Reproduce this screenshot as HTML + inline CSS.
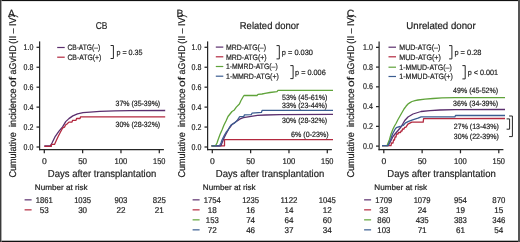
<!DOCTYPE html>
<html><head><meta charset="utf-8"><style>
html,body{margin:0;padding:0;background:#fff;}
body{width:520px;height:242px;overflow:hidden;position:relative;}
svg{position:absolute;left:0;top:0;will-change:transform;}
svg text{text-rendering:geometricPrecision;font-family:"Liberation Sans", sans-serif;fill:#1e1e1e;stroke:#1e1e1e;stroke-width:0.2px;}
</style></head><body>
<svg width="520" height="242" viewBox="0 0 520 242">
<rect x="0" y="0" width="520" height="242" fill="#fff"/>
<line x1="39.6" y1="41.4" x2="39.6" y2="150.2" stroke="#262626" stroke-width="1.25"/>
<line x1="39.0" y1="149.6" x2="163.9" y2="149.6" stroke="#262626" stroke-width="1.2"/>
<line x1="36.5" y1="147.0" x2="39.5" y2="147.0" stroke="#262626" stroke-width="1.25"/>
<text x="33.4" y="149.55" font-size="8.4" text-anchor="end" textLength="9.8" lengthAdjust="spacingAndGlyphs">0.0</text>
<line x1="36.5" y1="127.06" x2="39.5" y2="127.06" stroke="#262626" stroke-width="1.25"/>
<text x="33.4" y="129.61" font-size="8.4" text-anchor="end" textLength="9.8" lengthAdjust="spacingAndGlyphs">0.2</text>
<line x1="36.5" y1="107.12" x2="39.5" y2="107.12" stroke="#262626" stroke-width="1.25"/>
<text x="33.4" y="109.67" font-size="8.4" text-anchor="end" textLength="9.8" lengthAdjust="spacingAndGlyphs">0.4</text>
<line x1="36.5" y1="87.18" x2="39.5" y2="87.18" stroke="#262626" stroke-width="1.25"/>
<text x="33.4" y="89.73" font-size="8.4" text-anchor="end" textLength="9.8" lengthAdjust="spacingAndGlyphs">0.6</text>
<line x1="36.5" y1="67.24" x2="39.5" y2="67.24" stroke="#262626" stroke-width="1.25"/>
<text x="33.4" y="69.78999999999999" font-size="8.4" text-anchor="end" textLength="9.8" lengthAdjust="spacingAndGlyphs">0.8</text>
<line x1="36.5" y1="47.3" x2="39.5" y2="47.3" stroke="#262626" stroke-width="1.25"/>
<text x="33.4" y="49.849999999999994" font-size="8.4" text-anchor="end" textLength="9.8" lengthAdjust="spacingAndGlyphs">1.0</text>
<line x1="44.3" y1="149.6" x2="44.3" y2="153.3" stroke="#262626" stroke-width="1.25"/>
<text x="44.3" y="163.5" font-size="8.4" text-anchor="middle" textLength="4.8" lengthAdjust="spacingAndGlyphs">0</text>
<line x1="82.63333333333333" y1="149.6" x2="82.63333333333333" y2="153.3" stroke="#262626" stroke-width="1.25"/>
<text x="82.63333333333333" y="163.5" font-size="8.4" text-anchor="middle" textLength="9.0" lengthAdjust="spacingAndGlyphs">50</text>
<line x1="120.96666666666667" y1="149.6" x2="120.96666666666667" y2="153.3" stroke="#262626" stroke-width="1.25"/>
<text x="120.96666666666667" y="163.5" font-size="8.4" text-anchor="middle" textLength="12.8" lengthAdjust="spacingAndGlyphs">100</text>
<line x1="159.3" y1="149.6" x2="159.3" y2="153.3" stroke="#262626" stroke-width="1.25"/>
<text x="159.3" y="163.5" font-size="8.4" text-anchor="middle" textLength="12.4" lengthAdjust="spacingAndGlyphs">150</text>
<text x="47.8" y="177.2" font-size="10.2" text-anchor="start" textLength="108.5" lengthAdjust="spacingAndGlyphs">Days after transplantation</text>
<text x="34.8" y="189.9" font-size="7.9" text-anchor="start" textLength="52.8" lengthAdjust="spacingAndGlyphs">Number at risk</text>
<text transform="translate(16.2,177.60) rotate(-90)" x="0" y="0" font-size="9.8" textLength="45.30" lengthAdjust="spacingAndGlyphs">Cumulative</text>
<text transform="translate(16.2,126.90) rotate(-90)" x="0" y="0" font-size="9.8" textLength="38.50" lengthAdjust="spacingAndGlyphs">incidence</text>
<text transform="translate(16.2,86.90) rotate(-90)" x="0" y="0" font-size="9.8" textLength="10.10" lengthAdjust="spacingAndGlyphs">of</text>
<text transform="translate(16.2,74.40) rotate(-90)" x="0" y="0" font-size="9.8" textLength="29.00" lengthAdjust="spacingAndGlyphs">aGvHD</text>
<text transform="translate(16.2,43.80) rotate(-90)" x="0" y="0" font-size="9.8" textLength="29.20" lengthAdjust="spacingAndGlyphs">(II – IV)</text>
<text x="8" y="16.5" font-size="10.5" text-anchor="start">A</text>
<text x="101.5" y="29.4" font-size="10.0" text-anchor="middle" textLength="11.7" lengthAdjust="spacingAndGlyphs">CB</text>
<line x1="57.2" y1="47.5" x2="64.7" y2="47.5" stroke="#5b2f6e" stroke-width="1.2"/>
<text x="67.4" y="50.2" font-size="7.8" text-anchor="start" textLength="32.8" lengthAdjust="spacingAndGlyphs">CB-ATG(–)</text>
<line x1="57.2" y1="57.2" x2="64.7" y2="57.2" stroke="#b3293f" stroke-width="1.2"/>
<text x="67.4" y="59.900000000000006" font-size="7.8" text-anchor="start" textLength="34.0" lengthAdjust="spacingAndGlyphs">CB-ATG(+)</text>
<path d="M110.6,45.5 H113.39999999999999 V58.5 H110.6" fill="none" stroke="#262626" stroke-width="1"/>
<text x="116.4" y="54.5" font-size="7.6" text-anchor="start" textLength="26.2" lengthAdjust="spacingAndGlyphs">p = 0.35</text>
<line x1="24.6" y1="199.79999999999998" x2="31.6" y2="199.79999999999998" stroke="#5b2f6e" stroke-width="1.6" stroke-opacity="0.75"/>
<text x="44.3" y="202.5" font-size="8.4" text-anchor="middle" textLength="17.0" lengthAdjust="spacingAndGlyphs">1861</text>
<text x="82.63333333333333" y="202.5" font-size="8.4" text-anchor="middle" textLength="17.0" lengthAdjust="spacingAndGlyphs">1035</text>
<text x="120.96666666666667" y="202.5" font-size="8.4" text-anchor="middle" textLength="13.0" lengthAdjust="spacingAndGlyphs">903</text>
<text x="159.3" y="202.5" font-size="8.4" text-anchor="middle" textLength="13.0" lengthAdjust="spacingAndGlyphs">825</text>
<line x1="24.6" y1="209.79999999999998" x2="31.6" y2="209.79999999999998" stroke="#b3293f" stroke-width="1.6" stroke-opacity="0.75"/>
<text x="44.3" y="212.5" font-size="8.4" text-anchor="middle" textLength="9.0" lengthAdjust="spacingAndGlyphs">53</text>
<text x="82.63333333333333" y="212.5" font-size="8.4" text-anchor="middle" textLength="9.0" lengthAdjust="spacingAndGlyphs">30</text>
<text x="120.96666666666667" y="212.5" font-size="8.4" text-anchor="middle" textLength="9.0" lengthAdjust="spacingAndGlyphs">22</text>
<text x="159.3" y="212.5" font-size="8.4" text-anchor="middle" textLength="9.0" lengthAdjust="spacingAndGlyphs">21</text>
<path d="M44.30,145.90 L50.40,145.90 L52.00,143.00 L55.30,136.30 L59.00,131.20 L62.60,126.90 L65.70,121.60 L68.90,118.60 L72.80,115.90 L77.50,113.90 L83.00,112.70 L90.00,112.10 L100.00,111.40 L115.00,110.90 L130.00,110.60 L165.20,110.50" fill="none" stroke="#5b2f6e" stroke-width="1.3" stroke-linejoin="round"/>
<path d="M44.30,146.40 L51.30,146.40 L51.50,144.40 L54.50,144.40 L56.50,140.00 L58.40,136.00 L60.50,132.00 L62.80,127.80 L64.50,127.20 L65.50,125.00 L67.00,124.00 L68.90,122.10 L72.00,122.10 L72.60,120.30 L76.00,120.30 L76.60,118.50 L80.00,118.50 L80.60,116.80 L165.20,116.80" fill="none" stroke="#b3293f" stroke-width="1.3" stroke-linejoin="round"/>
<text x="115.5" y="105.7" font-size="7.6" text-anchor="start" textLength="44.7" lengthAdjust="spacingAndGlyphs">37% (35-39%)</text>
<text x="115.5" y="126.8" font-size="7.6" text-anchor="start" textLength="44.7" lengthAdjust="spacingAndGlyphs">30% (28-32%)</text>
<line x1="207.6" y1="41.4" x2="207.6" y2="150.2" stroke="#262626" stroke-width="1.25"/>
<line x1="207.0" y1="149.6" x2="331.9" y2="149.6" stroke="#262626" stroke-width="1.2"/>
<line x1="204.5" y1="147.0" x2="207.5" y2="147.0" stroke="#262626" stroke-width="1.25"/>
<text x="201.4" y="149.55" font-size="8.4" text-anchor="end" textLength="9.8" lengthAdjust="spacingAndGlyphs">0.0</text>
<line x1="204.5" y1="127.06" x2="207.5" y2="127.06" stroke="#262626" stroke-width="1.25"/>
<text x="201.4" y="129.61" font-size="8.4" text-anchor="end" textLength="9.8" lengthAdjust="spacingAndGlyphs">0.2</text>
<line x1="204.5" y1="107.12" x2="207.5" y2="107.12" stroke="#262626" stroke-width="1.25"/>
<text x="201.4" y="109.67" font-size="8.4" text-anchor="end" textLength="9.8" lengthAdjust="spacingAndGlyphs">0.4</text>
<line x1="204.5" y1="87.18" x2="207.5" y2="87.18" stroke="#262626" stroke-width="1.25"/>
<text x="201.4" y="89.73" font-size="8.4" text-anchor="end" textLength="9.8" lengthAdjust="spacingAndGlyphs">0.6</text>
<line x1="204.5" y1="67.24" x2="207.5" y2="67.24" stroke="#262626" stroke-width="1.25"/>
<text x="201.4" y="69.78999999999999" font-size="8.4" text-anchor="end" textLength="9.8" lengthAdjust="spacingAndGlyphs">0.8</text>
<line x1="204.5" y1="47.3" x2="207.5" y2="47.3" stroke="#262626" stroke-width="1.25"/>
<text x="201.4" y="49.849999999999994" font-size="8.4" text-anchor="end" textLength="9.8" lengthAdjust="spacingAndGlyphs">1.0</text>
<line x1="212.3" y1="149.6" x2="212.3" y2="153.3" stroke="#262626" stroke-width="1.25"/>
<text x="212.3" y="163.5" font-size="8.4" text-anchor="middle" textLength="4.8" lengthAdjust="spacingAndGlyphs">0</text>
<line x1="250.63333333333335" y1="149.6" x2="250.63333333333335" y2="153.3" stroke="#262626" stroke-width="1.25"/>
<text x="250.63333333333335" y="163.5" font-size="8.4" text-anchor="middle" textLength="9.0" lengthAdjust="spacingAndGlyphs">50</text>
<line x1="288.9666666666667" y1="149.6" x2="288.9666666666667" y2="153.3" stroke="#262626" stroke-width="1.25"/>
<text x="288.9666666666667" y="163.5" font-size="8.4" text-anchor="middle" textLength="12.8" lengthAdjust="spacingAndGlyphs">100</text>
<line x1="327.3" y1="149.6" x2="327.3" y2="153.3" stroke="#262626" stroke-width="1.25"/>
<text x="327.3" y="163.5" font-size="8.4" text-anchor="middle" textLength="12.4" lengthAdjust="spacingAndGlyphs">150</text>
<text x="215.8" y="177.2" font-size="10.2" text-anchor="start" textLength="108.5" lengthAdjust="spacingAndGlyphs">Days after transplantation</text>
<text x="202.8" y="189.9" font-size="7.9" text-anchor="start" textLength="52.8" lengthAdjust="spacingAndGlyphs">Number at risk</text>
<text transform="translate(185,177.60) rotate(-90)" x="0" y="0" font-size="9.8" textLength="45.30" lengthAdjust="spacingAndGlyphs">Cumulative</text>
<text transform="translate(185,126.90) rotate(-90)" x="0" y="0" font-size="9.8" textLength="38.50" lengthAdjust="spacingAndGlyphs">incidence</text>
<text transform="translate(185,86.90) rotate(-90)" x="0" y="0" font-size="9.8" textLength="10.10" lengthAdjust="spacingAndGlyphs">of</text>
<text transform="translate(185,74.40) rotate(-90)" x="0" y="0" font-size="9.8" textLength="29.00" lengthAdjust="spacingAndGlyphs">aGvHD</text>
<text transform="translate(185,43.80) rotate(-90)" x="0" y="0" font-size="9.8" textLength="29.20" lengthAdjust="spacingAndGlyphs">(II – IV)</text>
<text x="176.6" y="16.5" font-size="10.5" text-anchor="start">B</text>
<text x="269.5" y="29.4" font-size="10.0" text-anchor="middle" textLength="59.4" lengthAdjust="spacingAndGlyphs">Related donor</text>
<line x1="215.8" y1="47.1" x2="223.3" y2="47.1" stroke="#5b2f6e" stroke-width="1.2"/>
<text x="226.0" y="49.800000000000004" font-size="7.8" text-anchor="start" textLength="40.0" lengthAdjust="spacingAndGlyphs">MRD-ATG(–)</text>
<line x1="215.8" y1="56.8" x2="223.3" y2="56.8" stroke="#b3293f" stroke-width="1.2"/>
<text x="226.0" y="59.5" font-size="7.8" text-anchor="start" textLength="40.7" lengthAdjust="spacingAndGlyphs">MRD-ATG(+)</text>
<line x1="215.8" y1="66.5" x2="223.3" y2="66.5" stroke="#5fa33a" stroke-width="1.2"/>
<text x="226.0" y="69.2" font-size="7.8" text-anchor="start" textLength="51.7" lengthAdjust="spacingAndGlyphs">1-MMRD-ATG(–)</text>
<line x1="215.8" y1="76.2" x2="223.3" y2="76.2" stroke="#3b5d91" stroke-width="1.2"/>
<text x="226.0" y="78.9" font-size="7.8" text-anchor="start" textLength="52.8" lengthAdjust="spacingAndGlyphs">1-MMRD-ATG(+)</text>
<path d="M276.5,45.6 H279.3 V58.9 H276.5" fill="none" stroke="#262626" stroke-width="1"/>
<text x="281.8" y="54.75" font-size="7.6" text-anchor="start" textLength="31.2" lengthAdjust="spacingAndGlyphs">p = 0.030</text>
<path d="M290.3,65.6 H293.1 V78.6 H290.3" fill="none" stroke="#262626" stroke-width="1"/>
<text x="295.1" y="74.6" font-size="7.6" text-anchor="start" textLength="30.6" lengthAdjust="spacingAndGlyphs">p = 0.006</text>
<line x1="192.6" y1="199.79999999999998" x2="199.6" y2="199.79999999999998" stroke="#5b2f6e" stroke-width="1.6" stroke-opacity="0.75"/>
<text x="212.3" y="202.5" font-size="8.4" text-anchor="middle" textLength="17.0" lengthAdjust="spacingAndGlyphs">1754</text>
<text x="250.63333333333335" y="202.5" font-size="8.4" text-anchor="middle" textLength="17.0" lengthAdjust="spacingAndGlyphs">1235</text>
<text x="288.9666666666667" y="202.5" font-size="8.4" text-anchor="middle" textLength="17.0" lengthAdjust="spacingAndGlyphs">1122</text>
<text x="327.3" y="202.5" font-size="8.4" text-anchor="middle" textLength="17.0" lengthAdjust="spacingAndGlyphs">1045</text>
<line x1="192.6" y1="209.79999999999998" x2="199.6" y2="209.79999999999998" stroke="#b3293f" stroke-width="1.6" stroke-opacity="0.75"/>
<text x="212.3" y="212.5" font-size="8.4" text-anchor="middle" textLength="9.0" lengthAdjust="spacingAndGlyphs">18</text>
<text x="250.63333333333335" y="212.5" font-size="8.4" text-anchor="middle" textLength="9.0" lengthAdjust="spacingAndGlyphs">16</text>
<text x="288.9666666666667" y="212.5" font-size="8.4" text-anchor="middle" textLength="9.0" lengthAdjust="spacingAndGlyphs">14</text>
<text x="327.3" y="212.5" font-size="8.4" text-anchor="middle" textLength="9.0" lengthAdjust="spacingAndGlyphs">12</text>
<line x1="192.6" y1="219.79999999999998" x2="199.6" y2="219.79999999999998" stroke="#5fa33a" stroke-width="1.6" stroke-opacity="0.75"/>
<text x="212.3" y="222.5" font-size="8.4" text-anchor="middle" textLength="13.0" lengthAdjust="spacingAndGlyphs">153</text>
<text x="250.63333333333335" y="222.5" font-size="8.4" text-anchor="middle" textLength="9.0" lengthAdjust="spacingAndGlyphs">74</text>
<text x="288.9666666666667" y="222.5" font-size="8.4" text-anchor="middle" textLength="9.0" lengthAdjust="spacingAndGlyphs">64</text>
<text x="327.3" y="222.5" font-size="8.4" text-anchor="middle" textLength="9.0" lengthAdjust="spacingAndGlyphs">60</text>
<line x1="192.6" y1="229.79999999999998" x2="199.6" y2="229.79999999999998" stroke="#3b5d91" stroke-width="1.6" stroke-opacity="0.75"/>
<text x="212.3" y="232.5" font-size="8.4" text-anchor="middle" textLength="9.0" lengthAdjust="spacingAndGlyphs">72</text>
<text x="250.63333333333335" y="232.5" font-size="8.4" text-anchor="middle" textLength="9.0" lengthAdjust="spacingAndGlyphs">46</text>
<text x="288.9666666666667" y="232.5" font-size="8.4" text-anchor="middle" textLength="9.0" lengthAdjust="spacingAndGlyphs">37</text>
<text x="327.3" y="232.5" font-size="8.4" text-anchor="middle" textLength="9.0" lengthAdjust="spacingAndGlyphs">34</text>
<path d="M211.50,145.80 L224.50,145.80 L224.50,139.60 L333.00,139.60" fill="none" stroke="#b3293f" stroke-width="1.3" stroke-linejoin="round"/>
<path d="M211.50,145.80 L221.00,145.80 L222.00,143.00 L224.00,138.00 L226.00,134.00 L229.00,128.50 L232.00,124.50 L236.30,121.50 L240.20,118.90 L243.40,117.70 L249.60,116.60 L257.50,115.40 L265.30,115.00 L280.00,114.60 L333.00,114.30" fill="none" stroke="#5b2f6e" stroke-width="1.3" stroke-linejoin="round"/>
<path d="M211.50,145.80 L215.50,145.80 L217.00,143.00 L218.00,140.00 L220.00,134.50 L222.00,130.00 L224.00,125.00 L226.00,121.00 L228.00,116.50 L230.00,114.00 L232.00,111.50 L234.00,110.30 L236.30,107.10 L239.40,104.00 L241.00,100.50 L243.00,97.00 L244.00,95.50 L257.00,95.50 L258.00,94.30 L262.00,94.00 L265.00,93.30 L270.00,92.50 L277.00,91.60 L278.00,90.30 L333.00,90.30" fill="none" stroke="#5fa33a" stroke-width="1.3" stroke-linejoin="round"/>
<path d="M211.50,145.80 L219.50,145.80 L221.00,143.00 L222.00,140.00 L223.50,137.00 L224.50,135.00 L226.00,132.50 L228.00,130.00 L231.00,125.00 L234.70,122.90 L237.10,120.50 L239.40,117.00 L239.80,116.60 L243.70,116.60 L244.50,114.90 L251.20,114.70 L252.00,113.20 L261.40,112.40 L262.20,110.30 L333.00,110.30" fill="none" stroke="#3b5d91" stroke-width="1.3" stroke-linejoin="round"/>
<text x="282.1" y="99.5" font-size="7.6" text-anchor="start" textLength="45.3" lengthAdjust="spacingAndGlyphs">53% (45-61%)</text>
<text x="282.1" y="108.0" font-size="7.6" text-anchor="start" textLength="45.0" lengthAdjust="spacingAndGlyphs">33% (23-44%)</text>
<text x="282.1" y="122.5" font-size="7.6" text-anchor="start" textLength="45.0" lengthAdjust="spacingAndGlyphs">30% (28-32%)</text>
<text x="291.1" y="137.0" font-size="7.6" text-anchor="start" textLength="37.5" lengthAdjust="spacingAndGlyphs">6% (0-23%)</text>
<line x1="379.1" y1="41.4" x2="379.1" y2="150.2" stroke="#262626" stroke-width="1.25"/>
<line x1="378.5" y1="149.6" x2="503.4" y2="149.6" stroke="#262626" stroke-width="1.2"/>
<line x1="376.0" y1="146.1" x2="379.0" y2="146.1" stroke="#262626" stroke-width="1.25"/>
<text x="372.9" y="148.65" font-size="8.4" text-anchor="end" textLength="9.8" lengthAdjust="spacingAndGlyphs">0.0</text>
<line x1="376.0" y1="126.35" x2="379.0" y2="126.35" stroke="#262626" stroke-width="1.25"/>
<text x="372.9" y="128.9" font-size="8.4" text-anchor="end" textLength="9.8" lengthAdjust="spacingAndGlyphs">0.2</text>
<line x1="376.0" y1="106.6" x2="379.0" y2="106.6" stroke="#262626" stroke-width="1.25"/>
<text x="372.9" y="109.14999999999999" font-size="8.4" text-anchor="end" textLength="9.8" lengthAdjust="spacingAndGlyphs">0.4</text>
<line x1="376.0" y1="86.85" x2="379.0" y2="86.85" stroke="#262626" stroke-width="1.25"/>
<text x="372.9" y="89.39999999999999" font-size="8.4" text-anchor="end" textLength="9.8" lengthAdjust="spacingAndGlyphs">0.6</text>
<line x1="376.0" y1="67.1" x2="379.0" y2="67.1" stroke="#262626" stroke-width="1.25"/>
<text x="372.9" y="69.64999999999999" font-size="8.4" text-anchor="end" textLength="9.8" lengthAdjust="spacingAndGlyphs">0.8</text>
<line x1="376.0" y1="47.349999999999994" x2="379.0" y2="47.349999999999994" stroke="#262626" stroke-width="1.25"/>
<text x="372.9" y="49.89999999999999" font-size="8.4" text-anchor="end" textLength="9.8" lengthAdjust="spacingAndGlyphs">1.0</text>
<line x1="383.8" y1="149.6" x2="383.8" y2="153.3" stroke="#262626" stroke-width="1.25"/>
<text x="383.8" y="163.5" font-size="8.4" text-anchor="middle" textLength="4.8" lengthAdjust="spacingAndGlyphs">0</text>
<line x1="422.1333333333333" y1="149.6" x2="422.1333333333333" y2="153.3" stroke="#262626" stroke-width="1.25"/>
<text x="422.1333333333333" y="163.5" font-size="8.4" text-anchor="middle" textLength="9.0" lengthAdjust="spacingAndGlyphs">50</text>
<line x1="460.4666666666667" y1="149.6" x2="460.4666666666667" y2="153.3" stroke="#262626" stroke-width="1.25"/>
<text x="460.4666666666667" y="163.5" font-size="8.4" text-anchor="middle" textLength="12.8" lengthAdjust="spacingAndGlyphs">100</text>
<line x1="498.8" y1="149.6" x2="498.8" y2="153.3" stroke="#262626" stroke-width="1.25"/>
<text x="498.8" y="163.5" font-size="8.4" text-anchor="middle" textLength="12.4" lengthAdjust="spacingAndGlyphs">150</text>
<text x="387.3" y="177.2" font-size="10.2" text-anchor="start" textLength="108.5" lengthAdjust="spacingAndGlyphs">Days after transplantation</text>
<text x="374.3" y="189.9" font-size="7.9" text-anchor="start" textLength="52.8" lengthAdjust="spacingAndGlyphs">Number at risk</text>
<text transform="translate(354,177.60) rotate(-90)" x="0" y="0" font-size="9.8" textLength="45.30" lengthAdjust="spacingAndGlyphs">Cumulative</text>
<text transform="translate(354,126.90) rotate(-90)" x="0" y="0" font-size="9.8" textLength="38.50" lengthAdjust="spacingAndGlyphs">incidence</text>
<text transform="translate(354,86.90) rotate(-90)" x="0" y="0" font-size="9.8" textLength="10.10" lengthAdjust="spacingAndGlyphs">of</text>
<text transform="translate(354,74.40) rotate(-90)" x="0" y="0" font-size="9.8" textLength="29.00" lengthAdjust="spacingAndGlyphs">aGvHD</text>
<text transform="translate(354,43.80) rotate(-90)" x="0" y="0" font-size="9.8" textLength="29.20" lengthAdjust="spacingAndGlyphs">(II – IV)</text>
<text x="346.8" y="16.5" font-size="10.5" text-anchor="start">C</text>
<text x="441.0" y="29.4" font-size="10.0" text-anchor="middle" textLength="69.3" lengthAdjust="spacingAndGlyphs">Unrelated donor</text>
<line x1="388.5" y1="47.2" x2="396.0" y2="47.2" stroke="#5b2f6e" stroke-width="1.2"/>
<text x="399.3" y="49.900000000000006" font-size="7.8" text-anchor="start" textLength="41.0" lengthAdjust="spacingAndGlyphs">MUD-ATG(–)</text>
<line x1="388.5" y1="56.8" x2="396.0" y2="56.8" stroke="#b3293f" stroke-width="1.2"/>
<text x="399.3" y="59.5" font-size="7.8" text-anchor="start" textLength="41.6" lengthAdjust="spacingAndGlyphs">MUD-ATG(+)</text>
<line x1="388.5" y1="67.2" x2="396.0" y2="67.2" stroke="#5fa33a" stroke-width="1.2"/>
<text x="399.3" y="69.9" font-size="7.8" text-anchor="start" textLength="52.4" lengthAdjust="spacingAndGlyphs">1-MMUD-ATG(–)</text>
<line x1="388.5" y1="76.5" x2="396.0" y2="76.5" stroke="#3b5d91" stroke-width="1.2"/>
<text x="399.3" y="79.2" font-size="7.8" text-anchor="start" textLength="53.5" lengthAdjust="spacingAndGlyphs">1-MMUD-ATG(+)</text>
<path d="M449.1,45.6 H451.90000000000003 V58.9 H449.1" fill="none" stroke="#262626" stroke-width="1"/>
<text x="454.4" y="54.75" font-size="7.6" text-anchor="start" textLength="27.1" lengthAdjust="spacingAndGlyphs">p = 0.28</text>
<path d="M462.4,65.6 H465.2 V78.9 H462.4" fill="none" stroke="#262626" stroke-width="1"/>
<text x="467.7" y="74.75" font-size="7.6" text-anchor="start" textLength="30.3" lengthAdjust="spacingAndGlyphs">p &lt; 0.001</text>
<line x1="364.1" y1="199.79999999999998" x2="371.1" y2="199.79999999999998" stroke="#5b2f6e" stroke-width="1.6" stroke-opacity="0.75"/>
<text x="383.8" y="202.5" font-size="8.4" text-anchor="middle" textLength="17.0" lengthAdjust="spacingAndGlyphs">1709</text>
<text x="422.1333333333333" y="202.5" font-size="8.4" text-anchor="middle" textLength="17.0" lengthAdjust="spacingAndGlyphs">1079</text>
<text x="460.4666666666667" y="202.5" font-size="8.4" text-anchor="middle" textLength="13.0" lengthAdjust="spacingAndGlyphs">954</text>
<text x="498.8" y="202.5" font-size="8.4" text-anchor="middle" textLength="13.0" lengthAdjust="spacingAndGlyphs">870</text>
<line x1="364.1" y1="209.79999999999998" x2="371.1" y2="209.79999999999998" stroke="#b3293f" stroke-width="1.6" stroke-opacity="0.75"/>
<text x="383.8" y="212.5" font-size="8.4" text-anchor="middle" textLength="9.0" lengthAdjust="spacingAndGlyphs">33</text>
<text x="422.1333333333333" y="212.5" font-size="8.4" text-anchor="middle" textLength="9.0" lengthAdjust="spacingAndGlyphs">24</text>
<text x="460.4666666666667" y="212.5" font-size="8.4" text-anchor="middle" textLength="9.0" lengthAdjust="spacingAndGlyphs">19</text>
<text x="498.8" y="212.5" font-size="8.4" text-anchor="middle" textLength="9.0" lengthAdjust="spacingAndGlyphs">15</text>
<line x1="364.1" y1="219.79999999999998" x2="371.1" y2="219.79999999999998" stroke="#5fa33a" stroke-width="1.6" stroke-opacity="0.75"/>
<text x="383.8" y="222.5" font-size="8.4" text-anchor="middle" textLength="13.0" lengthAdjust="spacingAndGlyphs">860</text>
<text x="422.1333333333333" y="222.5" font-size="8.4" text-anchor="middle" textLength="13.0" lengthAdjust="spacingAndGlyphs">435</text>
<text x="460.4666666666667" y="222.5" font-size="8.4" text-anchor="middle" textLength="13.0" lengthAdjust="spacingAndGlyphs">383</text>
<text x="498.8" y="222.5" font-size="8.4" text-anchor="middle" textLength="13.0" lengthAdjust="spacingAndGlyphs">346</text>
<line x1="364.1" y1="229.79999999999998" x2="371.1" y2="229.79999999999998" stroke="#3b5d91" stroke-width="1.6" stroke-opacity="0.75"/>
<text x="383.8" y="232.5" font-size="8.4" text-anchor="middle" textLength="13.0" lengthAdjust="spacingAndGlyphs">103</text>
<text x="422.1333333333333" y="232.5" font-size="8.4" text-anchor="middle" textLength="9.0" lengthAdjust="spacingAndGlyphs">71</text>
<text x="460.4666666666667" y="232.5" font-size="8.4" text-anchor="middle" textLength="9.0" lengthAdjust="spacingAndGlyphs">61</text>
<text x="498.8" y="232.5" font-size="8.4" text-anchor="middle" textLength="9.0" lengthAdjust="spacingAndGlyphs">54</text>
<path d="M382.00,145.70 L391.00,145.70 L391.50,143.00 L393.00,143.00 L393.50,140.00 L394.50,140.00 L395.00,137.00 L396.00,137.00 L396.50,134.00 L398.00,134.00 L398.50,132.50 L400.50,132.50 L401.00,131.00 L402.00,131.00 L402.50,129.00 L404.00,129.00 L404.50,127.50 L406.00,127.20 L407.90,124.10 L411.80,122.10 L423.20,122.10 L423.60,118.60 L505.00,118.50" fill="none" stroke="#b3293f" stroke-width="1.3" stroke-linejoin="round"/>
<path d="M382.00,145.70 L388.00,145.70 L389.50,143.50 L391.50,139.50 L393.00,136.50 L395.00,134.00 L398.00,130.50 L401.00,127.00 L403.00,123.50 L405.00,120.20 L408.00,117.00 L413.00,114.00 L421.00,111.50 L430.00,110.60 L440.00,110.00 L455.00,109.60 L505.00,109.50" fill="none" stroke="#5b2f6e" stroke-width="1.3" stroke-linejoin="round"/>
<path d="M382.00,145.70 L387.00,145.70 L388.50,142.00 L389.50,139.50 L391.00,134.00 L393.00,129.00 L394.50,126.00 L396.00,123.50 L398.00,119.50 L400.00,116.00 L402.00,112.50 L404.00,109.00 L406.00,106.30 L408.00,104.00 L410.00,102.60 L412.00,101.50 L415.00,100.60 L418.00,100.00 L425.00,99.20 L433.00,98.50 L442.00,97.90 L455.00,97.60 L505.00,97.60" fill="none" stroke="#5fa33a" stroke-width="1.3" stroke-linejoin="round"/>
<path d="M382.00,145.70 L388.00,145.70 L389.50,142.00 L390.50,140.00 L392.50,134.00 L395.50,128.50 L397.00,127.30 L400.00,126.50 L403.10,125.50 L405.50,122.90 L408.60,121.40 L412.60,119.80 L418.00,118.20 L421.20,116.80 L455.00,116.80 L455.50,115.50 L505.00,115.50" fill="none" stroke="#3b5d91" stroke-width="1.3" stroke-linejoin="round"/>
<text x="453.1" y="93.3" font-size="7.6" text-anchor="start" textLength="45.0" lengthAdjust="spacingAndGlyphs">49% (45-52%)</text>
<text x="453.1" y="105.9" font-size="7.6" text-anchor="start" textLength="45.0" lengthAdjust="spacingAndGlyphs">36% (34-39%)</text>
<text x="453.8" y="128.8" font-size="7.6" text-anchor="start" textLength="45.0" lengthAdjust="spacingAndGlyphs">27% (13-43%)</text>
<text x="453.8" y="138.8" font-size="7.6" text-anchor="start" textLength="45.0" lengthAdjust="spacingAndGlyphs">30% (22-39%)</text>
<path d="M506.6,118.9 H509.6 V129.2 H506.6" fill="none" stroke="#262626" stroke-width="1"/>
<path d="M509.1,116 H512.4 V136.6 H509.1" fill="none" stroke="#262626" stroke-width="1"/>
<rect x="0" y="0" width="520" height="1.1" fill="#111"/>
<rect x="0" y="240.7" width="520" height="1.3" fill="#111"/>
<rect x="0" y="0" width="1" height="242" fill="#3a3a3a"/>
<rect x="1" y="0" width="0.7" height="242" fill="#888"/>
<rect x="518" y="0" width="2" height="242" fill="#555"/>
</svg>
</body></html>
